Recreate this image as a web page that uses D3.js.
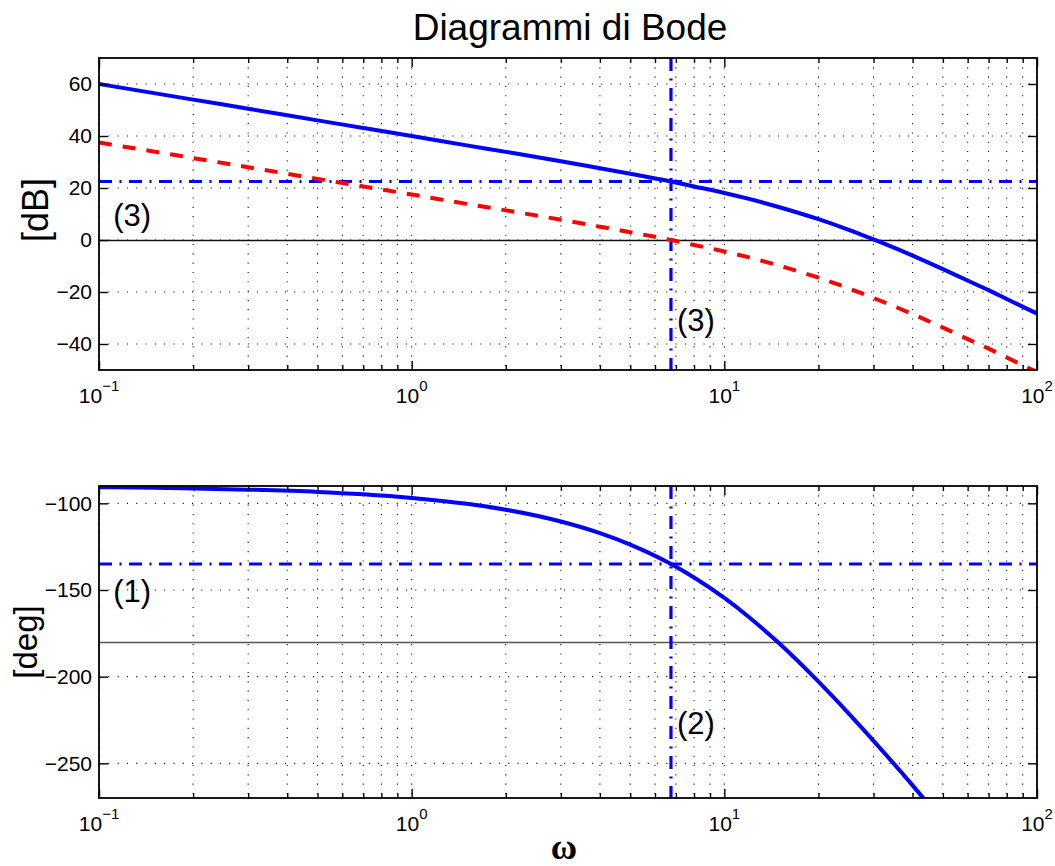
<!DOCTYPE html>
<html>
<head>
<meta charset="utf-8">
<script src="https://cdn.jsdelivr.net/npm/d3@7"></script>
<style>
body { margin: 0; background: #fff; }
text { font-family: "Liberation Sans", Arial, Helvetica, sans-serif; fill: #000; }
</style>
</head>
<body>
<script>
// values
var freq = [0.1, 0.15, 0.2, 0.3, 0.5, 0.7, 1, 1.5, 2, 3, 4, 5, 6.75, 8, 10, 12, 15, 20, 25, 30, 40, 50, 60, 70, 80, 100];
var magG = [60.0, 56.5, 54.0, 50.5, 46.0, 43.1, 40.0, 36.4, 33.9, 30.3, 27.6, 25.5, 22.5, 20.6, 18.1, 15.8, 12.6, 8.0, 3.9, 0.2, -6.0, -11.2, -15.6, -19.3, -22.7, -28.3];
var magL = [37.5, 34.0, 31.5, 28.0, 23.5, 20.6, 17.5, 13.9, 11.4, 7.8, 5.1, 3.0, 0.0, -1.9, -4.4, -6.7, -9.9, -14.5, -18.6, -22.3, -28.5, -33.7, -38.1, -41.8, -45.2, -50.8];
var phaseFreq = [0.1, 0.15, 0.2, 0.3, 0.5, 0.7, 1, 1.5, 2, 3, 4, 5, 6.75, 8, 10, 12, 15, 20, 25, 30, 40, 50];
var phaseG = [-90.7, -91.0, -91.4, -92.1, -93.4, -94.8, -96.9, -100.3, -103.7, -110.5, -117.2, -123.8, -135.0, -142.8, -154.6, -165.7, -180.9, -202.9, -221.3, -237.0, -262.7, -283.7];

var wCross = 6.75;      // vertical dash-dot line
var magCross = 22.5;    // horizontal dash-dot, magnitude
var phaseCross = -135;  // horizontal dash-dot, phase

var magTicks = [-40, -20, 0, 20, 40, 60];
var phaseTicks = [-250, -200, -150, -100];
var decades = [0.1, 1, 10, 100];
var decadeExp = ["\u22121", "0", "1", "2"];

var magNotes = [{t: "(3)", w: 0.111, v: 5.4}, {t: "(3)", w: 7.06, v: -35}];
var phaseNotes = [{t: "(1)", w: 0.111, v: -156.9}, {t: "(2)", w: 7.06, v: -233.1}];

var width = 1055, height = 866;
var left = 99, right = 1037;

var svg = d3.select("body").append("svg")
    .attr("width", width)
    .attr("height", height);

var x = d3.scaleLog().domain([0.1, 100]).range([left, right]);

// minor log positions 2..9 in each decade
var minors = [];
decades.slice(0, 3).forEach(function(d){
    d3.range(2, 10).forEach(function(k){ minors.push(k * d); });
});
var gridX = decades.concat(minors);

function fmt(d){ return d < 0 ? "\u2212" + Math.abs(d) : String(d); }

function drawPanel(cfg){
    var y = d3.scaleLinear().domain(cfg.domain).range([cfg.bottom, cfg.top]);
    var g = svg.append("g");

    svg.append("clipPath").attr("id", cfg.id)
        .append("rect")
        .attr("x", left).attr("y", cfg.top)
        .attr("width", right - left).attr("height", cfg.bottom - cfg.top);

    // dotted grid
    g.selectAll(".vg").data(gridX).enter().append("line")
        .attr("x1", function(d){ return x(d); }).attr("x2", function(d){ return x(d); })
        .attr("y1", cfg.top).attr("y2", cfg.bottom)
        .attr("stroke", "#111").attr("stroke-width", 1.1)
        .attr("stroke-dasharray", "1.1,8.2");
    g.selectAll(".hg").data(cfg.ticks).enter().append("line")
        .attr("x1", left).attr("x2", right)
        .attr("y1", function(d){ return y(d); }).attr("y2", function(d){ return y(d); })
        .attr("stroke", "#111").attr("stroke-width", 1.1)
        .attr("stroke-dasharray", "1.1,8.2");

    // reference line (0 dB / -180 deg)
    g.append("line")
        .attr("x1", left).attr("x2", right)
        .attr("y1", y(cfg.ref) + 0.5).attr("y2", y(cfg.ref) + 0.5)
        .attr("stroke", cfg.refColor).attr("stroke-width", 1.3);

    var plot = g.append("g").attr("clip-path", "url(#" + cfg.id + ")");

    // dash-dot guides
    plot.append("line")
        .attr("x1", left).attr("x2", right)
        .attr("y1", y(cfg.cross)).attr("y2", y(cfg.cross))
        .attr("stroke", "#0000ff").attr("stroke-width", 3.2)
        .attr("stroke-dasharray", "13,7.5,2,7.5");
    plot.append("line")
        .attr("x1", x(wCross)).attr("x2", x(wCross))
        .attr("y1", cfg.top).attr("y2", cfg.bottom)
        .attr("stroke", "#0000ff").attr("stroke-width", 3.2)
        .attr("stroke-dasharray", "13,7.5,2,7.5");

    var line = d3.line()
        .x(function(d){ return x(d[0]); })
        .y(function(d){ return y(d[1]); })
        .curve(d3.curveMonotoneX);

    cfg.series.forEach(function(s){
        plot.append("path")
            .datum(d3.zip(s.w, s.v))
            .attr("fill", "none")
            .attr("stroke", s.color)
            .attr("stroke-width", s.width)
            .attr("stroke-dasharray", s.dash)
            .attr("d", line);
    });

    // frame
    g.append("rect")
        .attr("x", left).attr("y", cfg.top)
        .attr("width", right - left).attr("height", cfg.bottom - cfg.top)
        .attr("fill", "none").attr("stroke", "#000").attr("stroke-width", 1.8);

    // ticks, all pointing inward
    [[decades, -9], [minors, -5]].forEach(function(t){
        g.append("g").attr("transform", "translate(0," + cfg.bottom + ")")
            .call(d3.axisBottom(x).tickValues(t[0]).tickSizeInner(t[1]).tickSizeOuter(0).tickFormat(""));
        g.append("g").attr("transform", "translate(0," + cfg.top + ")")
            .call(d3.axisTop(x).tickValues(t[0]).tickSizeInner(t[1]).tickSizeOuter(0).tickFormat(""));
    });
    g.append("g").attr("transform", "translate(" + left + ",0)")
        .call(d3.axisLeft(y).tickValues(cfg.ticks).tickSizeInner(-9).tickSizeOuter(0)
            .tickPadding(7).tickFormat(fmt))
        .selectAll("text").style("font-size", "21px");
    g.append("g").attr("transform", "translate(" + right + ",0)")
        .call(d3.axisRight(y).tickValues(cfg.ticks).tickSizeInner(-9).tickSizeOuter(0).tickFormat(""));

    g.selectAll(".domain").remove();
    g.selectAll(".tick line").attr("stroke", "#000").attr("stroke-width", 1.4);

    // decade labels 10^n
    var lab = g.selectAll(".xl").data(decades).enter().append("text")
        .attr("x", function(d){ return x(d); })
        .attr("y", cfg.bottom + 33)
        .attr("text-anchor", "middle")
        .style("font-size", "21px");
    lab.append("tspan").text("10");
    lab.append("tspan").attr("dy", -12).style("font-size", "15px")
        .text(function(d, i){ return decadeExp[i]; });

    // y label
    svg.append("text")
        .attr("transform", "translate(" + cfg.labelX + "," + cfg.labelY + ") rotate(-90)")
        .attr("text-anchor", "middle")
        .style("font-size", cfg.labelSize)
        .text(cfg.label);

    // annotations
    g.selectAll(".note").data(cfg.notes).enter().append("text")
        .attr("x", function(d){ return x(d.w); })
        .attr("y", function(d){ return y(d.v); })
        .style("font-size", "31px")
        .text(function(d){ return d.t; });
}

drawPanel({
    id: "clipMag", top: 58, bottom: 370, domain: [-50, 70], ticks: magTicks,
    ref: 0, refColor: "#111", cross: magCross,
    label: "[dB]", labelX: 48, labelY: 210, labelSize: "36px",
    notes: magNotes,
    series: [
        {w: freq, v: magL, color: "#ff0000", width: 4, dash: "13,11"},
        {w: freq, v: magG, color: "#0000ff", width: 4, dash: null}
    ]
});

drawPanel({
    id: "clipPhase", top: 486, bottom: 798, domain: [-270, -90], ticks: phaseTicks,
    ref: -180, refColor: "#555", cross: phaseCross,
    label: "[deg]", labelX: 37, labelY: 642, labelSize: "33px",
    notes: phaseNotes,
    series: [
        {w: phaseFreq, v: phaseG, color: "#0000ff", width: 4, dash: null}
    ]
});

svg.append("text")
    .attr("x", 570)
    .attr("y", 40)
    .attr("text-anchor", "middle")
    .style("font-size", "37px")
    .text("Diagrammi di Bode");

svg.append("text")
    .attr("x", 564)
    .attr("y", 859)
    .attr("text-anchor", "middle")
    .style("font-family", "'Liberation Serif', 'Times New Roman', serif")
    .style("font-weight", "bold")
    .style("font-size", "36px")
    .text("\u03c9");
</script>
</body>
</html>
